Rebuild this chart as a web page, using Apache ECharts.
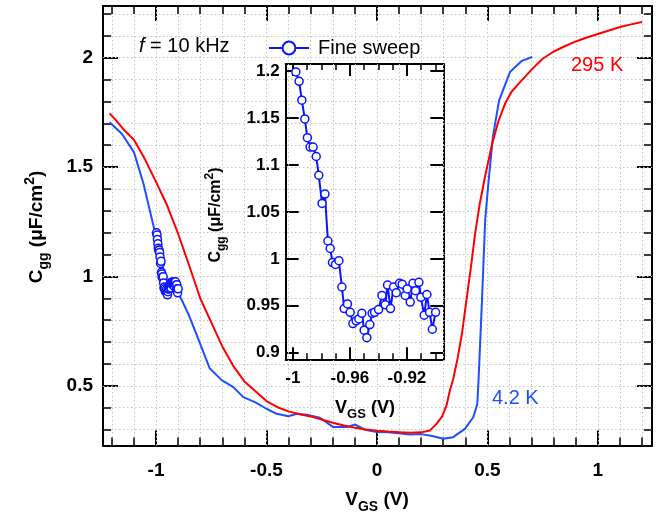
<!DOCTYPE html>
<html>
<head>
<meta charset="utf-8">
<script src="https://cdn.jsdelivr.net/npm/echarts@6/dist/echarts.min.js"></script>
<style>html,body{margin:0;padding:0;background:#fff;}#c{width:669px;height:514px;}</style>
</head>
<body>
<div id="c"></div>
<script>
// ---- data ----
const fineV = [-0.9979,-0.9956,-0.9937,-0.9916,-0.9898,-0.9879,-0.9858,-0.9836,-0.9818,-0.9795,-0.9775,-0.9754,-0.9738,-0.9722,-0.9701,-0.9677,-0.9656,-0.9640,-0.9617,-0.9598,-0.9579,-0.9556,-0.9537,-0.9516,-0.9500,-0.9481,-0.9460,-0.9444,-0.9427,-0.9399,-0.9375,-0.9352,-0.9336,-0.9315,-0.9294,-0.9275,-0.9252,-0.9233,-0.9212,-0.9198,-0.9177,-0.9158,-0.9140,-0.9116,-0.9102,-0.9079,-0.9060,-0.9041,-0.9022,-0.8999];
const fineC = [1.199,1.189,1.169,1.149,1.129,1.119,1.119,1.109,1.089,1.059,1.069,1.019,1.011,0.996,0.994,0.998,0.970,0.947,0.952,0.943,0.931,0.934,0.936,0.942,0.924,0.916,0.930,0.942,0.943,0.946,0.961,0.951,0.972,0.947,0.970,0.964,0.974,0.973,0.961,0.968,0.954,0.974,0.966,0.975,0.959,0.940,0.962,0.943,0.925,0.943];

const v42 = [-1.21,-1.155,-1.1,-1.057,-1.01,-0.95,-0.9,-0.88,-0.85,-0.816,-0.757,-0.703,-0.65,-0.605,-0.552,-0.5,-0.454,-0.401,-0.363,-0.318,-0.258,-0.198,-0.137,-0.1,-0.054,0,0.05,0.1,0.15,0.2,0.25,0.3,0.345,0.398,0.436,0.454,0.46,0.475,0.49,0.503,0.525,0.553,0.602,0.655,0.703];
const c42 = [1.705,1.652,1.568,1.425,1.225,0.96,0.925,0.885,0.82,0.733,0.58,0.526,0.494,0.448,0.425,0.395,0.372,0.361,0.372,0.368,0.354,0.311,0.311,0.323,0.299,0.289,0.287,0.283,0.277,0.279,0.27,0.258,0.265,0.303,0.356,0.415,0.53,0.88,1.26,1.41,1.64,1.805,1.934,1.985,2.003];

const v295 = [-1.21,-1.18,-1.15,-1.1,-1.05,-1.0,-0.95,-0.9,-0.85,-0.8,-0.75,-0.7,-0.65,-0.6,-0.55,-0.5,-0.45,-0.4,-0.35,-0.3,-0.25,-0.2,-0.15,-0.1,-0.05,0,0.05,0.1,0.15,0.2,0.24,0.27,0.295,0.315,0.33,0.345,0.365,0.385,0.405,0.425,0.445,0.465,0.49,0.52,0.55,0.58,0.61,0.65,0.7,0.75,0.8,0.85,0.9,0.95,1.0,1.05,1.1,1.15,1.2];
const c295 = [1.745,1.712,1.675,1.625,1.535,1.432,1.325,1.195,1.05,0.9,0.79,0.68,0.59,0.52,0.475,0.43,0.402,0.383,0.37,0.36,0.346,0.331,0.318,0.308,0.3,0.295,0.291,0.288,0.285,0.287,0.296,0.326,0.36,0.41,0.478,0.53,0.625,0.74,0.89,1.04,1.2,1.33,1.46,1.6,1.71,1.79,1.845,1.89,1.945,1.995,2.028,2.052,2.074,2.092,2.108,2.124,2.14,2.152,2.163];

// ---- ticks ----
const mainXMajor = [-1,-0.5,0,0.5,1];
const mainXMinor = [-1.2,-1.1,-0.9,-0.8,-0.7,-0.6,-0.4,-0.3,-0.2,-0.1,0.1,0.2,0.3,0.4,0.6,0.7,0.8,0.9,1.1,1.2];
const mainXGrid = [-1.2,-1.1,-1,-0.9,-0.8,-0.7,-0.6,-0.5,-0.4,-0.3,-0.2,-0.1,0,0.1,0.2,0.3,0.4,0.5,0.6,0.7,0.8,0.9,1,1.1,1.2];
const mainYMajor = [0.5,1,1.5,2];
const mainYMinor = [0.3,0.4,0.6,0.7,0.8,0.9,1.1,1.2,1.3,1.4,1.6,1.7,1.8,1.9,2.1,2.2];
const mainYGrid = [0.3,0.4,0.5,0.6,0.7,0.8,0.9,1,1.1,1.2,1.3,1.4,1.5,1.6,1.7,1.8,1.9,2,2.1,2.2];
const insetXMajor = [-1,-0.96,-0.92];
const insetXMinor = [-0.99,-0.98,-0.97,-0.95,-0.94,-0.93,-0.91,-0.9];
const insetYMajor = [0.9,0.95,1,1.05,1.1,1.15,1.2];

const MAIN = {x:[-1.24,1.245], y:[0.227,2.236]};
const INSET = {x:[-1.005,-0.8945], y:[0.893,1.2075]};

const FONT = '"Liberation Sans", Arial, sans-serif';
const BLUE42 = '#1f4fff';
const BLUEF = '#0a14ff';
const RED = '#ff0000';

const zip = (a,b) => a.map((v,i) => [v,b[i]]);

const G0 = {left:103, top:6, width:549, height:439.5};
const G1 = {left:285.7, top:64, width:157.6, height:295.3};

function ax(opts) {
  return {
    type:'value', min:opts.range[0], max:opts.range[1], position:opts.pos, gridIndex:opts.grid,
    axisLine:{show:!!opts.line, onZero:false, lineStyle:{color:'#000', width:2}},
    axisTick:{show:!!opts.ticks, inside:true, length:opts.len||8, customValues:opts.ticks||[],
      lineStyle:opts.tickStyle||{color:'#000', width:2}},
    axisLabel:{show:!!opts.labels, customValues:opts.labels||[], color:'#000', fontFamily:FONT,
      fontWeight:'bold', fontSize:opts.fs||18, margin:opts.margin||10},
    splitLine:{show:false}, minorTick:{show:false}, minorSplitLine:{show:false}
  };
}
const gridTickStyle = {color:'#c4c4c4', width:1, type:[1.5,2.5]};

const xAxes = [
  ax({range:MAIN.x, pos:'bottom', grid:0, line:true, ticks:mainXMajor, len:15, labels:mainXMajor, fs:19, margin:16}),
  ax({range:MAIN.x, pos:'top', grid:0, line:true, ticks:mainXMajor, len:15}),
  ax({range:MAIN.x, pos:'bottom', grid:1, ticks:mainXGrid, len:G0.height, tickStyle:gridTickStyle}),
  ax({range:MAIN.x, pos:'bottom', grid:2, ticks:mainXMinor, len:8, tickStyle:{color:'#000',width:1.5}}),
  ax({range:MAIN.x, pos:'top', grid:2, ticks:mainXMinor, len:8, tickStyle:{color:'#000',width:1.5}}),
  ax({range:INSET.x, pos:'bottom', grid:3, line:true, ticks:insetXMajor, len:12, labels:insetXMajor, fs:17, margin:11}),
  ax({range:INSET.x, pos:'top', grid:3, line:true, ticks:insetXMajor, len:12}),
  ax({range:INSET.x, pos:'bottom', grid:4, ticks:insetXMinor, len:6, tickStyle:{color:'#000',width:1.5}}),
  ax({range:INSET.x, pos:'top', grid:4, ticks:insetXMinor, len:6, tickStyle:{color:'#000',width:1.5}})
];
const yAxes = [
  ax({range:MAIN.y, pos:'left', grid:0, line:true, ticks:mainYMajor, len:15, labels:mainYMajor, fs:19, margin:10}),
  ax({range:MAIN.y, pos:'right', grid:0, line:true, ticks:mainYMajor, len:15}),
  ax({range:MAIN.y, pos:'left', grid:1, ticks:mainYGrid, len:G0.width, tickStyle:gridTickStyle}),
  ax({range:MAIN.y, pos:'left', grid:2, ticks:mainYMinor, len:8, tickStyle:{color:'#000',width:1.5}}),
  ax({range:MAIN.y, pos:'right', grid:2, ticks:mainYMinor, len:8, tickStyle:{color:'#000',width:1.5}}),
  ax({range:INSET.y, pos:'left', grid:3, line:true, ticks:insetYMajor, len:13, labels:insetYMajor, fs:17, margin:6}),
  ax({range:INSET.y, pos:'right', grid:3, line:true, ticks:insetYMajor, len:13}),
  ax({range:INSET.y, pos:'left', grid:4})
];

const subStyle = (fs, lh) => ({fontFamily:FONT, fontWeight:'bold', fontSize:fs, lineHeight:lh, verticalAlign:'bottom', fill:'#000', color:'#000'});
const supStyle = (fs, lh) => ({fontFamily:FONT, fontWeight:'bold', fontSize:fs, lineHeight:lh, verticalAlign:'top', fill:'#000', color:'#000'});
const mainStyle = (fs, lh) => ({fontFamily:FONT, fontWeight:'bold', fontSize:fs, lineHeight:lh, fill:'#000', color:'#000'});

function titleText(x, y, rot, fs, sfs, lh, withUnits) {
  return {
    type:'text', x:x, y:y, rotation:rot, z:10,
    style:{
      text: withUnits ? '{a|C}{b|gg}{a| (μF/cm}{c|2}{a|)}' : '{a|V}{b|GS}{a| (V)}',
      rich:{a:mainStyle(fs, lh), b:subStyle(sfs, sfs), c:supStyle(sfs, sfs)},
      align:'center', verticalAlign:'middle', textAlign:'center', textVerticalAlign:'middle'
    }
  };
}

const chart = echarts.init(document.getElementById('c'), null, {renderer:'canvas'});
chart.setOption({
  animation:false,
  backgroundColor:'#fff',
  grid:[G0, G0, G0, G1, G1].map(g => Object.assign({containLabel:false}, g)),
  xAxis:xAxes,
  yAxis:yAxes,
  legend:{
    left:263, top:33, itemWidth:40, itemHeight:16, data:['Fine sweep'],
    textStyle:{fontFamily:FONT, fontSize:20, color:'#000', padding:[0,0,0,4]}
  },
  series:[
    {type:'line', name:'4.2 K', xAxisIndex:0, yAxisIndex:0, data:zip(v42,c42), showSymbol:false, symbol:'none',
      lineStyle:{color:BLUE42, width:2}, z:3},
    {type:'line', name:'295 K', xAxisIndex:0, yAxisIndex:0, data:zip(v295,c295), showSymbol:false, symbol:'none',
      lineStyle:{color:RED, width:2}, z:3},
    {type:'line', name:'Fine sweep', xAxisIndex:0, yAxisIndex:0, data:zip(fineV,fineC), symbol:'circle', symbolSize:8,
      itemStyle:{color:'#fff', borderColor:BLUEF, borderWidth:1.5}, lineStyle:{color:BLUEF, width:2}, z:4},
    {type:'line', name:'Fine sweep', xAxisIndex:5, yAxisIndex:5, data:zip(fineV,fineC), symbol:'circle', symbolSize:8,
      itemStyle:{color:'#fff', borderColor:BLUEF, borderWidth:1.5}, lineStyle:{color:BLUEF, width:2}, z:4}
  ],
  graphic:[
    {type:'text', left:139, top:36, z:10, style:{text:'{i|f} = 10 kHz', rich:{i:{fontStyle:'italic', fontFamily:FONT, fontSize:20, fill:'#000', color:'#000'}}, fontFamily:FONT, fontSize:20, fill:'#000'}},
    {type:'text', left:571, top:55, z:10, style:{text:'295 K', fontFamily:FONT, fontSize:20, fill:RED}},
    {type:'text', left:492, top:388, z:10, style:{text:'4.2 K', fontFamily:FONT, fontSize:20, fill:BLUE42}},
    titleText(377, 500, 0, 19, 14, 28, false),
    titleText(37, 227, Math.PI/2, 19, 14, 28, true),
    titleText(365, 408, 0, 18, 13, 26, false),
    titleText(216, 215, Math.PI/2, 16, 12, 24, true)
  ]
});
</script>
</body>
</html>
